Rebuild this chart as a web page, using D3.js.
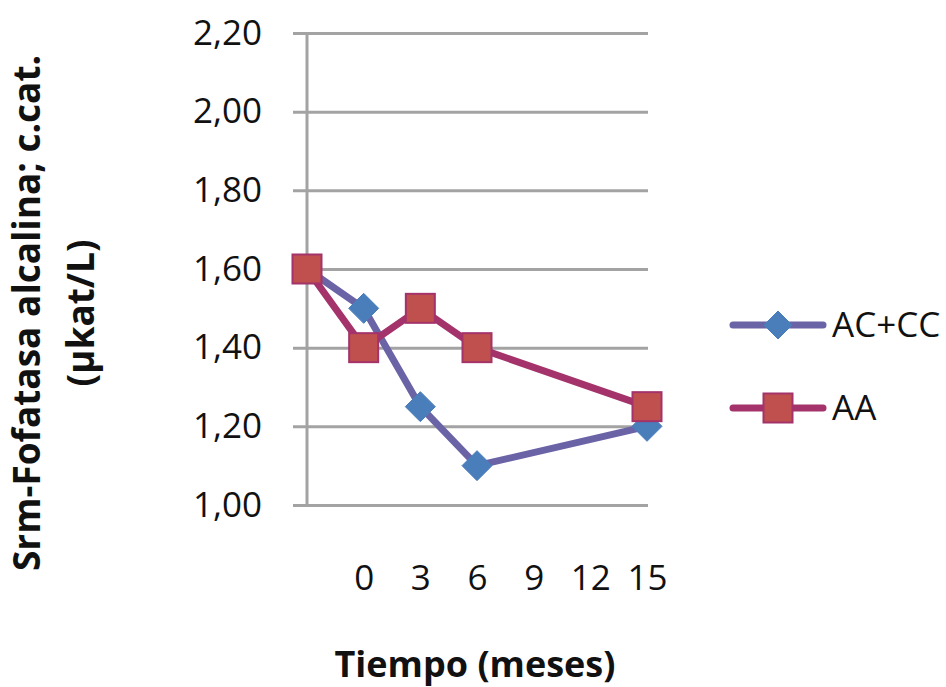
<!DOCTYPE html>
<html>
<head>
<meta charset="utf-8">
<script src="https://cdn.jsdelivr.net/npm/d3@7"></script>
<style>
  body { margin: 0; background: #fff; }
  svg text { font-family: "Open Sans", "Liberation Sans", sans-serif; fill: #111; }
</style>
</head>
<body>
<svg id="chart" width="946" height="687"></svg>
<script>
// Months of follow-up (the first reading is the baseline before month 0)
const months = [-3, 0, 3, 6, 15];
// Serum alkaline phosphatase, catalytic concentration (µkat/L)
const acCc = [1.60, 1.50, 1.25, 1.10, 1.20];
const aa   = [1.60, 1.40, 1.50, 1.40, 1.25];
const seriesNames = ["AC+CC", "AA"];
const xTicks = [0, 3, 6, 9, 12, 15];
const yTicks = [1.00, 1.20, 1.40, 1.60, 1.80, 2.00, 2.20];

const svg = d3.select("#chart");
svg.append("rect").attr("width", 946).attr("height", 687).attr("fill", "#fff");

const plot = { left: 307, right: 648, top: 33, bottom: 505 };
const x = d3.scaleLinear().domain([-3, 15]).range([plot.left, 647]);
const y = d3.scaleLinear().domain([1.0, 2.2]).range([plot.bottom, plot.top]);

const gridColor = "#a3a3a3";
const fmt = v => d3.format(".2f")(v).replace(".", ",");

// Y axis: labels plus horizontal gridlines that poke out left as ticks
const yAxis = svg.append("g")
  .attr("transform", `translate(${plot.left - 14},0)`)
  .call(d3.axisLeft(y).tickValues(yTicks).tickFormat(fmt)
    .tickSizeInner(-(plot.right - plot.left + 14)).tickSizeOuter(0).tickPadding(31));
yAxis.select(".domain").remove();
yAxis.selectAll(".tick line").attr("stroke", gridColor).attr("stroke-width", 3);
yAxis.selectAll(".tick text").attr("font-size", 35).attr("fill", "#111");

// Vertical axis line
svg.append("line")
  .attr("x1", plot.left).attr("x2", plot.left)
  .attr("y1", plot.top).attr("y2", plot.bottom)
  .attr("stroke", gridColor).attr("stroke-width", 3);

// X axis: labels only
const xAxis = svg.append("g")
  .attr("transform", `translate(0,${plot.bottom})`)
  .call(d3.axisBottom(x).tickValues(xTicks).tickFormat(d3.format("d"))
    .tickSize(0).tickPadding(60));
xAxis.select(".domain").remove();
xAxis.selectAll(".tick text").attr("font-size", 35).attr("fill", "#111");

// Axis titles
svg.append("text")
  .attr("x", 475).attr("y", 677)
  .attr("text-anchor", "middle")
  .attr("font-size", 36).attr("font-weight", "bold")
  .text("Tiempo (meses)");

const yTitle = ["Srm-Fofatasa alcalina; c.cat.", "(µkat/L)"];
svg.selectAll(".ytitle").data(yTitle).enter().append("text")
  .attr("class", "ytitle")
  .attr("transform", (d, i) => `translate(${27 + i * 54},313) rotate(-90)`)
  .attr("dy", "0.35em")
  .attr("text-anchor", "middle")
  .attr("font-size", 37).attr("font-weight", "bold")
  .text(d => d);

// Series
const series = [
  { name: seriesNames[0], values: acCc, line: "#6a63a6", fill: "#4a7ebb", stroke: "#4a7ebb", marker: "diamond" },
  { name: seriesNames[1], values: aa,   line: "#a3336a", fill: "#c0504d", stroke: "#a3336a", marker: "square" }
];

const diamondPath = r => `M0,${-r}L${r},0L0,${r}L${-r},0Z`;
function drawMarker(g, s, size) {
  if (s.marker === "diamond") {
    g.append("path").attr("d", diamondPath(size / 2))
      .attr("fill", s.fill).attr("stroke", s.stroke).attr("stroke-width", 1);
  } else {
    g.append("rect")
      .attr("x", -size / 2).attr("y", -size / 2)
      .attr("width", size).attr("height", size)
      .attr("fill", s.fill).attr("stroke", s.stroke).attr("stroke-width", 2);
  }
}

const line = d3.line().x(d => x(d[0])).y(d => y(d[1]));

series.forEach(s => {
  const pts = months.map((m, i) => [m, s.values[i]]);
  const g = svg.append("g");
  g.append("path").datum(pts)
    .attr("d", line)
    .attr("fill", "none")
    .attr("stroke", s.line).attr("stroke-width", 7)
    .attr("stroke-linejoin", "round");
  pts.forEach(p => {
    const mg = g.append("g").attr("transform", `translate(${x(p[0])},${y(p[1])})`);
    drawMarker(mg, s, s.marker === "diamond" ? 30 : 29);
  });
});

// Legend
const legendY = [325, 408];
series.forEach((s, i) => {
  const g = svg.append("g").attr("transform", `translate(733,${legendY[i]})`);
  g.append("line").attr("x1", 0).attr("x2", 90)
    .attr("stroke", s.line).attr("stroke-width", 7).attr("stroke-linecap", "round");
  const mg = g.append("g").attr("transform", "translate(45,0)");
  drawMarker(mg, s, s.marker === "diamond" ? 28 : 29);
  g.append("text").attr("x", 99).attr("dy", "0.35em")
    .attr("font-size", 35).text(s.name);
});
</script>
</body>
</html>
